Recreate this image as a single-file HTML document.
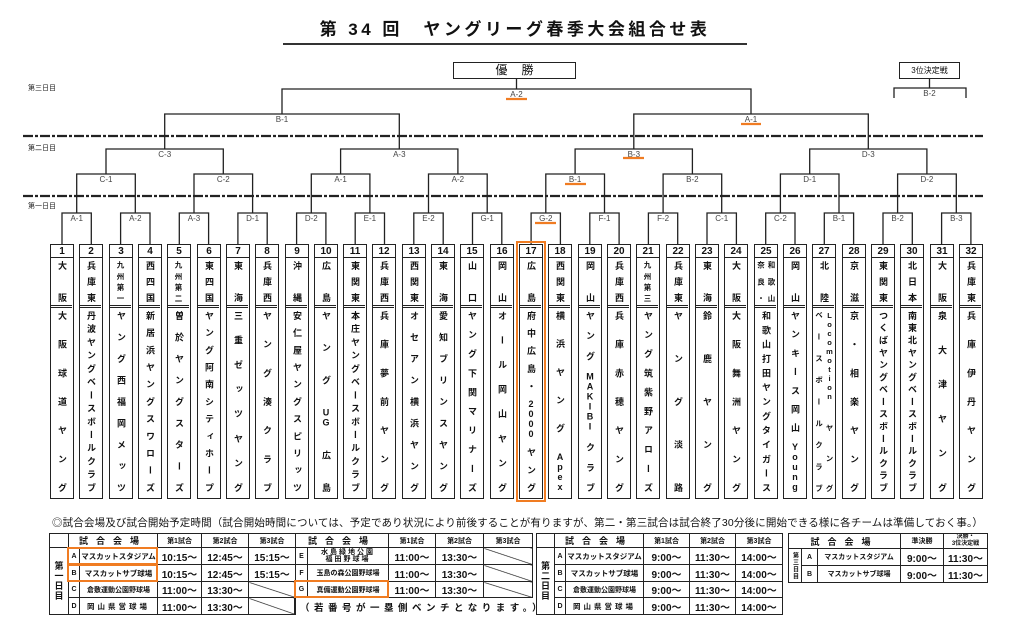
<!DOCTYPE html>
<html><head><meta charset="utf-8">
<style>
*{box-sizing:border-box;margin:0;padding:0}
body{width:1024px;height:632px;background:#fff;position:relative;overflow:hidden;font-family:"Liberation Sans","Noto Sans CJK JP",sans-serif;color:#111}
.abs{position:absolute}
.title{left:283px;top:19px;width:464px;text-align:center;font-size:17px;font-weight:bold;letter-spacing:3.5px;border-bottom:2.5px solid #333;padding-bottom:3px;line-height:21px}
.day{position:absolute;left:28px;font-size:7px;color:#222}
.tb{position:absolute;top:244px;width:24px;height:255px;border:1.5px solid #222;background:#fff}
.n{height:13px;border-bottom:1px solid #222;font-size:10px;font-weight:bold;text-align:center;line-height:13px;font-family:"Liberation Sans",sans-serif}
.r,.t{writing-mode:vertical-rl;text-orientation:upright;text-align:justify;text-align-last:justify;font-weight:bold;font-size:9px;line-height:21px;padding:3px 0;overflow:hidden}
.r{height:50px;border-bottom:3px double #222}
.t{height:187px}
.two{line-height:10.5px}
.sm{font-size:7.5px}
table{position:absolute;border-collapse:collapse;table-layout:fixed;font-weight:bold}
td{border:1px solid #222;text-align:center;font-size:10px;white-space:nowrap;overflow:hidden;padding:0}
td.v{font-size:7.5px}
td.l{font-size:7px}
td.dy{writing-mode:vertical-rl;text-orientation:upright;font-size:9px;letter-spacing:1px}
td.sl{background:linear-gradient(to top right,transparent calc(50% - .7px),#222 50%,transparent calc(50% + .7px))}
td.h{font-size:9px}
</style></head><body>
<div class="abs title">第 34 回　ヤングリーグ春季大会組合せ表</div>

<div class="day" style="top:83px">第三日目</div>
<div class="day" style="top:143px">第二日目</div>
<div class="day" style="top:201px">第一日目</div>

<div class="abs" style="left:453px;top:62px;width:123px;height:17px;border:1.3px solid #222;text-align:center;font-size:12px;line-height:15px;letter-spacing:14px;padding-left:14px">優勝</div>
<div class="abs" style="left:899px;top:62px;width:61px;height:17px;border:1.3px solid #222;text-align:center;font-size:8px;line-height:15px">3位決定戦</div>

<svg class="abs" style="left:0;top:0" width="1024" height="250">
<g stroke="#222" stroke-width="2.2" stroke-dasharray="10,2,3,2">
<line x1="23" y1="136" x2="983" y2="136"/><line x1="23" y1="196" x2="983" y2="196"/>
</g>
<g fill="none" stroke="#222" stroke-width="1.3">
<path d="M62 244V213H91.3V244M120.6 244V213H150V244M179.3 244V213H208.6V244M237.9 244V213H267.2V244M296.6 244V213H325.9V244M355.2 244V213H384.5V244M413.8 244V213H443.2V244M472.5 244V213H501.8V244M531.1 244V213H560.4V244M589.8 244V213H619.1V244M648.4 244V213H677.7V244M707 244V213H736.4V244M765.7 244V213H795V244M824.3 244V213H853.6V244M883 244V213H912.3V244M941.6 244V213H970.9V244"/>
<path d="M76.7 213V174H135.3V213M194 213V174H252.6V213M311.3 213V174H369.9V213M428.5 213V174H487.2V213M545.8 213V174H604.5V213M663.1 213V174H721.7V213M780.4 213V174H839V213M897.6 213V174H956.3V213"/>
<path d="M106 174V149H223.3V174M340.6 174V149H457.9V174M575.1 174V149H692.4V174M809.7 174V149H926.9V174"/>
<path d="M164.7 149V114H399.3V149M633.8 149V114H868.3V149"/>
<path d="M282 114V89H751V114M516.5 89V78"/>
<path d="M894 98V88H966V98M929.5 88V78"/>
</g>
<g font-family="Liberation Sans,sans-serif" font-size="8" fill="#444" text-anchor="middle">
<text x="76.7" y="221">A-1</text><text x="135.3" y="221">A-2</text><text x="194" y="221">A-3</text><text x="252.6" y="221">D-1</text>
<text x="311.3" y="221">D-2</text><text x="369.9" y="221">E-1</text><text x="428.5" y="221">E-2</text><text x="487.2" y="221">G-1</text>
<text x="545.8" y="221">G-2</text><text x="604.5" y="221">F-1</text><text x="663.1" y="221">F-2</text><text x="721.7" y="221">C-1</text>
<text x="780.4" y="221">C-2</text><text x="839" y="221">B-1</text><text x="897.6" y="221">B-2</text><text x="956.3" y="221">B-3</text>
<text x="106" y="182">C-1</text><text x="223.3" y="182">C-2</text><text x="340.6" y="182">A-1</text><text x="457.9" y="182">A-2</text>
<text x="575.1" y="182">B-1</text><text x="692.4" y="182">B-2</text><text x="809.7" y="182">D-1</text><text x="926.9" y="182">D-2</text>
<text x="164.7" y="157">C-3</text><text x="399.3" y="157">A-3</text><text x="633.8" y="157">B-3</text><text x="868.3" y="157">D-3</text>
<text x="282" y="122">B-1</text><text x="751" y="122">A-1</text>
<text x="516.5" y="97">A-2</text><text x="929.5" y="96">B-2</text>
</g>
<g stroke="#f07c22" stroke-width="2.2">
<line x1="506" y1="99" x2="527" y2="99"/><line x1="741" y1="124" x2="761" y2="124"/>
<line x1="623" y1="158" x2="644" y2="158"/><line x1="565" y1="184" x2="586" y2="184"/>
<line x1="535" y1="223" x2="556" y2="223"/>
</g>
</svg>

<div class="tb" style="left:50px"><div class="n">1</div><div class="r">大阪</div><div class="t">大阪球道ヤング</div></div>
<div class="tb" style="left:79px"><div class="n">2</div><div class="r">兵庫東</div><div class="t">丹波ヤングベースボールクラブ</div></div>
<div class="tb" style="left:109px"><div class="n">3</div><div class="r sm">九州第一</div><div class="t">ヤング西福岡メッツ</div></div>
<div class="tb" style="left:138px"><div class="n">4</div><div class="r">西四国</div><div class="t">新居浜ヤングスワローズ</div></div>
<div class="tb" style="left:167px"><div class="n">5</div><div class="r sm">九州第二</div><div class="t">曽於ヤングスターズ</div></div>
<div class="tb" style="left:197px"><div class="n">6</div><div class="r">東四国</div><div class="t">ヤング阿南シティホープ</div></div>
<div class="tb" style="left:226px"><div class="n">7</div><div class="r">東海</div><div class="t">三重ゼッツヤング</div></div>
<div class="tb" style="left:255px"><div class="n">8</div><div class="r">兵庫西</div><div class="t">ヤング湊クラブ</div></div>
<div class="tb" style="left:285px"><div class="n">9</div><div class="r">沖縄</div><div class="t">安仁屋ヤングスピリッツ</div></div>
<div class="tb" style="left:314px"><div class="n">10</div><div class="r">広島</div><div class="t">ヤングUG広島</div></div>
<div class="tb" style="left:343px"><div class="n">11</div><div class="r">東関東</div><div class="t">本庄ヤングベースボールクラブ</div></div>
<div class="tb" style="left:372px"><div class="n">12</div><div class="r">兵庫西</div><div class="t">兵庫夢前ヤング</div></div>
<div class="tb" style="left:402px"><div class="n">13</div><div class="r">西関東</div><div class="t">オセアン横浜ヤング</div></div>
<div class="tb" style="left:431px"><div class="n">14</div><div class="r">東海</div><div class="t">愛知ブリンスヤング</div></div>
<div class="tb" style="left:460px"><div class="n">15</div><div class="r">山口</div><div class="t">ヤング下関マリナーズ</div></div>
<div class="tb" style="left:490px"><div class="n">16</div><div class="r">岡山</div><div class="t">オール岡山ヤング</div></div>
<div class="tb" style="left:519px"><div class="n">17</div><div class="r">広島</div><div class="t">府中広島・2000ヤング</div></div>
<div class="tb" style="left:548px"><div class="n">18</div><div class="r">西関東</div><div class="t">横浜ヤングApex</div></div>
<div class="tb" style="left:578px"><div class="n">19</div><div class="r">岡山</div><div class="t">ヤングMAKIBIクラブ</div></div>
<div class="tb" style="left:607px"><div class="n">20</div><div class="r">兵庫西</div><div class="t">兵庫赤穂ヤング</div></div>
<div class="tb" style="left:636px"><div class="n">21</div><div class="r sm">九州第三</div><div class="t">ヤング筑紫野アローズ</div></div>
<div class="tb" style="left:666px"><div class="n">22</div><div class="r">兵庫東</div><div class="t">ヤング淡路</div></div>
<div class="tb" style="left:695px"><div class="n">23</div><div class="r">東海</div><div class="t">鈴鹿ヤング</div></div>
<div class="tb" style="left:724px"><div class="n">24</div><div class="r">大阪</div><div class="t">大阪舞洲ヤング</div></div>
<div class="tb" style="left:754px"><div class="n">25</div><div class="r two sm">和歌山<br>奈良・</div><div class="t">和歌山打田ヤングタイガース</div></div>
<div class="tb" style="left:783px"><div class="n">26</div><div class="r">岡山</div><div class="t">ヤンキース岡山Young</div></div>
<div class="tb" style="left:812px"><div class="n">27</div><div class="r">北陸</div><div class="t two sm">Locomotionヤング<br>ベースボールクラブ</div></div>
<div class="tb" style="left:842px"><div class="n">28</div><div class="r">京滋</div><div class="t">京・相楽ヤング</div></div>
<div class="tb" style="left:871px"><div class="n">29</div><div class="r">東関東</div><div class="t">つくばヤングベースボールクラブ</div></div>
<div class="tb" style="left:900px"><div class="n">30</div><div class="r">北日本</div><div class="t">南東北ヤングベースボールクラブ</div></div>
<div class="tb" style="left:930px"><div class="n">31</div><div class="r">大阪</div><div class="t">泉大津ヤング</div></div>
<div class="tb" style="left:959px"><div class="n">32</div><div class="r">兵庫東</div><div class="t">兵庫伊丹ヤング</div></div>
<div class="abs" style="left:516px;top:241px;width:30px;height:261px;border:2.5px solid #f07c22"></div>

<div class="abs" style="left:52px;top:515px;font-size:10.5px;white-space:nowrap;letter-spacing:0.15px">◎試合会場及び試合開始予定時間（試合開始時間については、予定であり状況により前後することが有りますが、第二・第三試合は試合終了30分後に開始できる様に各チームは準備しておく事。）</div>

<table style="left:49px;top:533px;width:246px;border:1.5px solid #222">
<colgroup><col style="width:19px"><col style="width:11px"><col style="width:78px"><col style="width:44px"><col style="width:47px"><col style="width:47px"></colgroup>
<tr style="height:14px"><td></td><td colspan="2" class="h" style="letter-spacing:8px">試合会場</td><td class="l">第1試合</td><td class="l">第2試合</td><td class="l">第3試合</td></tr>
<tr style="height:17px"><td rowspan="4" class="dy">第一日目</td><td class="l">A</td><td class="v">マスカットスタジアム</td><td>10:15〜</td><td>12:45〜</td><td>15:15〜</td></tr>
<tr style="height:17px"><td class="l">B</td><td class="v">マスカットサブ球場</td><td>10:15〜</td><td>12:45〜</td><td>15:15〜</td></tr>
<tr style="height:16px"><td class="l">C</td><td class="l">倉敷運動公園野球場</td><td>11:00〜</td><td>13:30〜</td><td class="sl"></td></tr>
<tr style="height:17px"><td class="l">D</td><td class="v" style="letter-spacing:3px">岡山県営球場</td><td>11:00〜</td><td>13:30〜</td><td class="sl"></td></tr>
</table>
<table style="left:295px;top:533px;width:237px;border:1.5px solid #222">
<colgroup><col style="width:12px"><col style="width:81px"><col style="width:47px"><col style="width:48px"><col style="width:49px"></colgroup>
<tr style="height:14px"><td colspan="2" class="h" style="letter-spacing:8px">試合会場</td><td class="l">第1試合</td><td class="l">第2試合</td><td class="l">第3試合</td></tr>
<tr style="height:17px"><td class="l">E</td><td class="l" style="line-height:7px;letter-spacing:2px">水島緑地公園<br>福田野球場</td><td>11:00〜</td><td>13:30〜</td><td class="sl"></td></tr>
<tr style="height:17px"><td class="l">F</td><td class="l">玉島の森公園野球場</td><td>11:00〜</td><td>13:30〜</td><td class="sl"></td></tr>
<tr style="height:16px"><td class="l">G</td><td class="l">真備運動公園野球場</td><td>11:00〜</td><td>13:30〜</td><td class="sl"></td></tr>
</table>
<div class="abs" style="left:300px;top:600px;font-size:9.5px;font-weight:bold;letter-spacing:4.5px;white-space:nowrap">（若番号が一塁側ベンチとなります。）</div>
<div class="abs" style="left:294px;top:597px;width:1.5px;height:17px;background:#222"></div>
<div class="abs" style="left:67px;top:547px;width:91px;height:18px;border:2.5px solid #f07c22"></div>
<div class="abs" style="left:67px;top:564px;width:91px;height:18px;border:2.5px solid #f07c22"></div>
<div class="abs" style="left:294px;top:580px;width:95px;height:18px;border:2.5px solid #f07c22"></div>

<table style="left:536px;top:533px;width:246px;border:1.5px solid #222">
<colgroup><col style="width:18px"><col style="width:11px"><col style="width:78px"><col style="width:46px"><col style="width:46px"><col style="width:47px"></colgroup>
<tr style="height:14px"><td></td><td colspan="2" class="h" style="letter-spacing:8px">試合会場</td><td class="l">第1試合</td><td class="l">第2試合</td><td class="l">第3試合</td></tr>
<tr style="height:17px"><td rowspan="4" class="dy">第二日目</td><td class="l">A</td><td class="v">マスカットスタジアム</td><td>9:00〜</td><td>11:30〜</td><td>14:00〜</td></tr>
<tr style="height:17px"><td class="l">B</td><td class="v">マスカットサブ球場</td><td>9:00〜</td><td>11:30〜</td><td>14:00〜</td></tr>
<tr style="height:16px"><td class="l">C</td><td class="l">倉敷運動公園野球場</td><td>9:00〜</td><td>11:30〜</td><td>14:00〜</td></tr>
<tr style="height:17px"><td class="l">D</td><td class="v" style="letter-spacing:3px">岡山県営球場</td><td>9:00〜</td><td>11:30〜</td><td>14:00〜</td></tr>
</table>

<table style="left:788px;top:533px;width:199px;border:1.5px solid #222">
<colgroup><col style="width:13px"><col style="width:16px"><col style="width:83px"><col style="width:43px"><col style="width:44px"></colgroup>
<tr style="height:15px"><td colspan="3" class="h" style="letter-spacing:8px">試合会場</td><td class="l">準決勝</td><td class="l" style="line-height:7px;font-size:6px">決勝・<br>3位決定戦</td></tr>
<tr style="height:17px"><td rowspan="2" class="dy" style="font-size:6px">第三日目</td><td class="l">A</td><td class="l">マスカットスタジアム</td><td>9:00〜</td><td>11:30〜</td></tr>
<tr style="height:17px"><td class="l">B</td><td class="l">マスカットサブ球場</td><td>9:00〜</td><td>11:30〜</td></tr>
</table>
</body></html>
